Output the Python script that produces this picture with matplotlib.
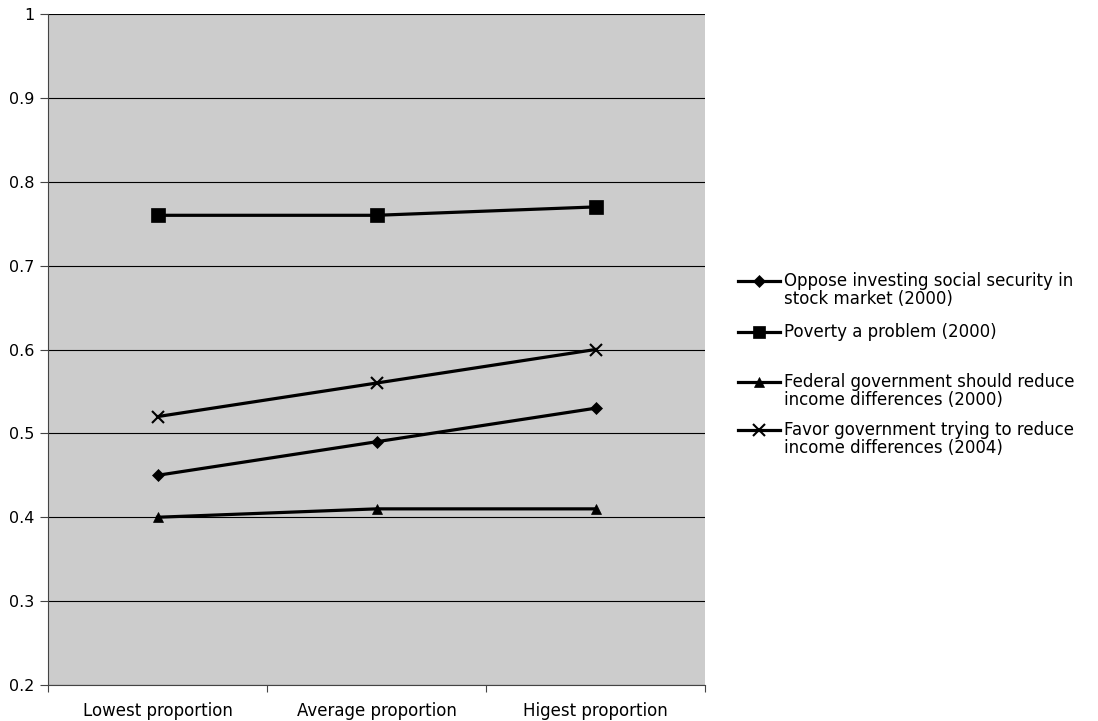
import matplotlib.pyplot as plt
from matplotlib.lines import Line2D

categories = ['Lowest proportion', 'Average proportion', 'Higest proportion']
oppose_ss = [0.45, 0.49, 0.53]
poverty = [0.76, 0.76, 0.77]
federal_reduce = [0.40, 0.41, 0.41]
favor_reduce = [0.52, 0.56, 0.60]

labels = ['Oppose investing social security in\nstock market (2000)',
          'Poverty a problem (2000)',
          'Federal government should reduce\nincome differences (2000)',
          'Favor government trying to reduce\nincome differences (2004)']

series = [oppose_ss, poverty, federal_reduce, favor_reduce]
markers = [('D', 6.5), ('s', 9.5), ('^', 7.5), ('x', 8.5)]

W, H = 1098, 721
fig = plt.figure(figsize=(W / 100, H / 100), dpi=100)
ax = fig.add_axes([48 / W, 1 - 685 / H, (705 - 48) / W, (685 - 14) / H])
ax.set_facecolor('#cccccc')

x = range(len(categories))
for vals, (m, ms) in zip(series, markers):
    ax.plot(x, vals, color='black', lw=2.3, marker=m, markersize=ms,
            markeredgewidth=1.5 if m == 'x' else 0.5, markerfacecolor='black',
            markeredgecolor='black', zorder=3)

ax.set_xlim(-0.5, 2.5)
ax.set_ylim(0.2, 1.0)
ax.set_yticks([0.2, 0.3, 0.4, 0.5, 0.6, 0.7, 0.8, 0.9, 1.0])
ax.set_yticklabels(['0.2', '0.3', '0.4', '0.5', '0.6', '0.7', '0.8', '0.9', '1'])
ax.yaxis.grid(True, color='black', lw=0.8)
ax.set_axisbelow(True)

# category labels centred, ticks on the boundaries
ax.set_xticks([-0.5, 0.5, 1.5, 2.5])
ax.set_xticklabels([])
ax.set_xticks(list(x), minor=True)
ax.set_xticklabels(categories, minor=True)
ax.tick_params(axis='x', which='minor', length=0, pad=12, labelsize=12)
ax.tick_params(axis='x', which='major', length=5, color='#444444')
ax.tick_params(axis='y', length=6, color='#444444', labelsize=11.5, pad=4)

for side in ['top', 'right']:
    ax.spines[side].set_visible(False)
for side in ['left', 'bottom']:
    ax.spines[side].set_color('#444444')

# legend built by hand so the key sits on the first text line
legend_y = [281, 332, 382, 430]
line_step = 18
for yy, lab, (m, ms) in zip(legend_y, labels, markers):
    fy = 1 - yy / H
    fig.add_artist(Line2D([738 / W, 780 / W], [fy, fy], color='black', lw=2.3,
                          transform=fig.transFigure))
    fig.add_artist(Line2D([759 / W], [fy], marker=m, markersize=ms * 0.95,
                          markeredgewidth=1.5 if m == 'x' else 0.5,
                          color='black', transform=fig.transFigure))
    for i, part in enumerate(lab.split('\n')):
        fig.text(784 / W, 1 - (yy + i * line_step) / H, part, fontsize=12,
                 ha='left', va='center', transform=fig.transFigure)

fig.savefig('out.png', dpi=100, facecolor='white')
